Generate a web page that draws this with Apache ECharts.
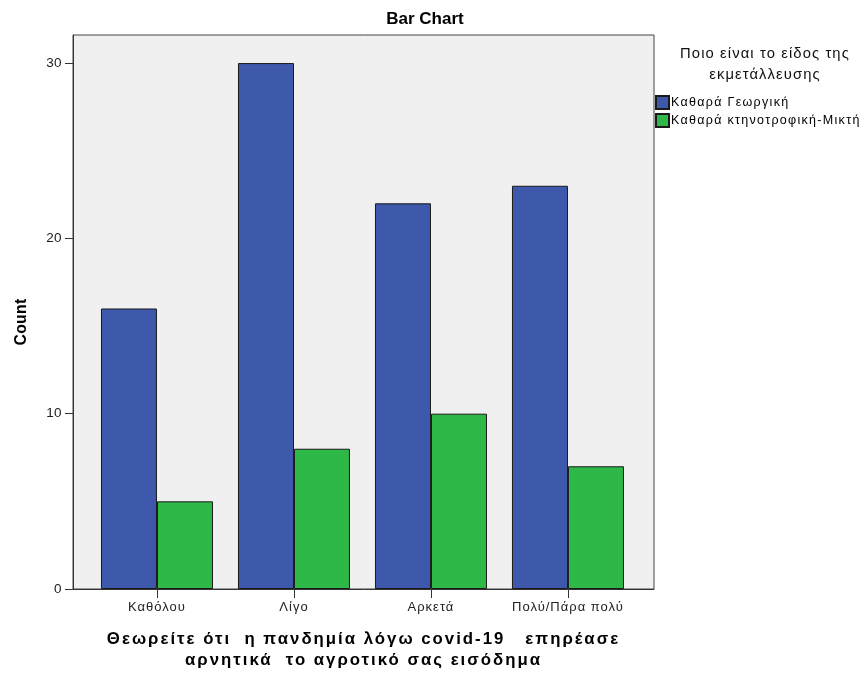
<!DOCTYPE html>
<html>
<head>
<meta charset="utf-8">
<script src="https://cdn.jsdelivr.net/npm/echarts@6/dist/echarts.min.js"></script>
<style>html,body{margin:0;padding:0;background:#fff;}#c{width:866px;height:677px;}</style>
</head>
<body>
<div id="c"></div>
<script>
const categories = ['Καθόλου', 'Λίγο', 'Αρκετά', 'Πολύ/Πάρα πολύ'];
const seriesNames = ['Καθαρά Γεωργική', 'Καθαρά κτηνοτροφική-Μικτή'];
const georgiki = [16, 30, 22, 23];
const ktinotrofiki = [5, 8, 10, 7];
const yTicks = [0, 10, 20, 30];

// SPSS-like letter tracking, keyed on font size (visual styling only)
const trackingBySize = { '17': '0px', '16.8': '2px', '15.8': '0.3px', '14.8': '1.1px', '12.5': '1.3px', '13': '1px', '13.5': '0.4px' };
(function () {
  const proto = CanvasRenderingContext2D.prototype;
  const desc = Object.getOwnPropertyDescriptor(proto, 'font');
  if (!desc || !('letterSpacing' in proto)) return;
  Object.defineProperty(proto, 'font', {
    configurable: true,
    get: function () { return desc.get.call(this); },
    set: function (v) {
      desc.set.call(this, v);
      const m = /(\d+(?:\.\d+)?)px/.exec(v || '');
      this.letterSpacing = (m && trackingBySize[m[1]]) || '0px';
    }
  });
})();

const chart = echarts.init(document.getElementById('c'));
const font = 'Arial, "Liberation Sans", sans-serif';
const catIdx = categories.map((c, i) => i);
function toData(arr) { return arr.map((v, i) => [i, v]); }

chart.setOption({
  animation: false,
  backgroundColor: '#ffffff',
  title: [
    { text: 'Bar Chart', left: 420, top: 6, textAlign: 'center',
      textStyle: { fontFamily: font, fontSize: 17, fontWeight: 'bold', color: '#000' } },
    { text: 'Ποιο είναι το είδος της\nεκμετάλλευσης', left: 760, top: 38, textAlign: 'center',
      textStyle: { fontFamily: font, fontSize: 14.8, fontWeight: 'normal', color: '#111', lineHeight: 21 } }
  ],
  legend: {
    orient: 'vertical', left: 650, top: 90, itemWidth: 13, itemHeight: 13, itemGap: 3,
    icon: 'rect',
    data: seriesNames,
    textStyle: { fontFamily: font, fontSize: 12.5, color: '#000', padding: [0, 0, 0, -3] }
  },
  grid: {
    left: 73, right: 866 - 654, top: 35, bottom: 677 - 589,
    show: true, backgroundColor: '#f0f0f0', borderColor: '#444', borderWidth: 1
  },
  xAxis: {
    type: 'value', min: -0.613, max: 3.628,
    splitLine: { show: false },
    axisLine: { show: true, onZero: false, lineStyle: { color: '#333' } },
    axisTick: { show: true, length: 9, lineStyle: { color: '#333' }, customValues: catIdx },
    axisLabel: { customValues: catIdx, formatter: v => categories[Math.round(v)] || '',
      fontFamily: font, fontSize: 13, color: '#222', margin: 11 },
    name: 'Θεωρείτε ότι  η πανδημία λόγω covid-19   επηρέασε\nαρνητικά  το αγροτικό σας εισόδημα',
    nameLocation: 'middle', nameGap: 40,
    nameTextStyle: { fontFamily: font, fontSize: 16.8, fontWeight: 'bold', color: '#000', lineHeight: 21 }
  },
  yAxis: {
    type: 'value', min: 0, max: 31.6,
    splitLine: { show: false },
    axisLine: { show: true, onZero: false, lineStyle: { color: '#333' } },
    axisTick: { show: true, length: 8, lineStyle: { color: '#333' }, customValues: yTicks },
    axisLabel: { customValues: yTicks, fontFamily: font, fontSize: 13.5, color: '#222', margin: 11 },
    name: 'Count', nameLocation: 'middle', nameGap: 43, nameRotate: 90,
    nameTextStyle: { fontFamily: font, fontSize: 15.8, fontWeight: 'bold', color: '#000', padding: [0, 20, 0, 0] }
  },
  series: [
    { name: seriesNames[0], type: 'bar', data: toData(georgiki), barWidth: 56, barGap: '0%',
      itemStyle: { color: '#3e58ac', borderColor: '#1a1a1a', borderWidth: 1 } },
    { name: seriesNames[1], type: 'bar', data: toData(ktinotrofiki), barWidth: 56, barGap: '0%',
      itemStyle: { color: '#2eb848', borderColor: '#1a1a1a', borderWidth: 1 } }
  ]
});
</script>
</body>
</html>
